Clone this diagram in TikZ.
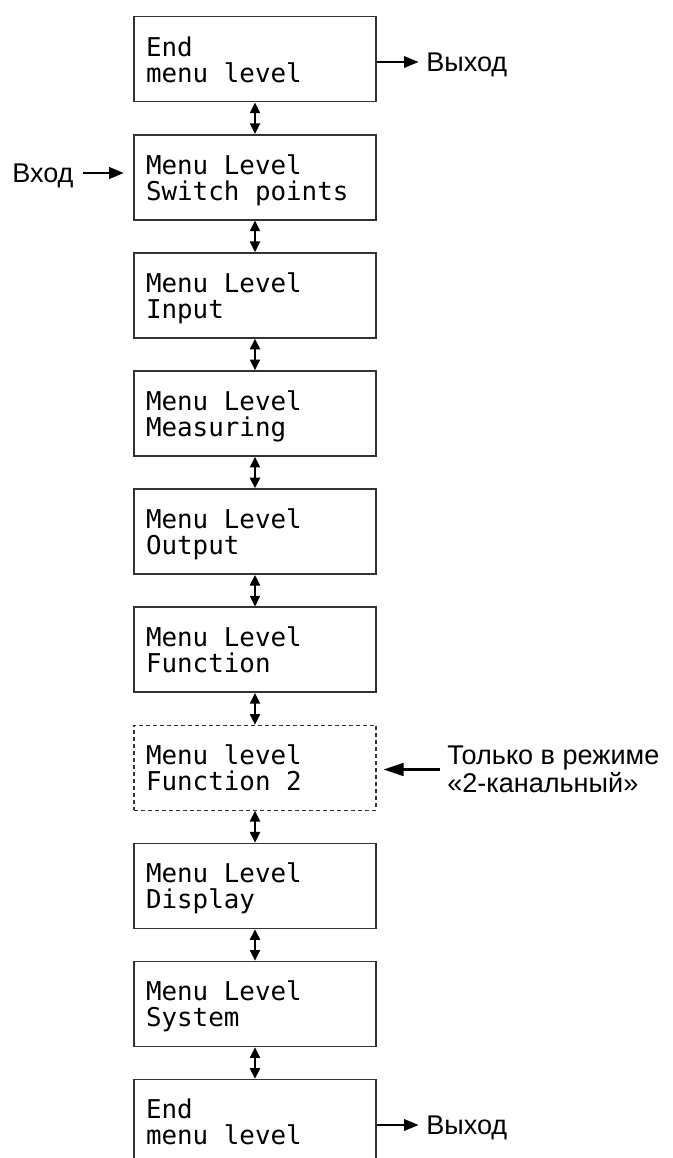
\documentclass[tikz,border=0pt]{standalone}
\usepackage{fontspec}
\setmainfont{Liberation Sans}
\newfontfamily\monofont{DejaVu Sans Mono}
\usetikzlibrary{arrows.meta}
\newcommand{\nodep}[1]{\raisebox{0pt}[\height][0pt]{#1}}
\begin{document}
\begin{tikzpicture}[x=0.75pt,y=-0.75pt,
  menubox/.style={draw=black!80, line width=1.15pt, minimum width=181.5pt,
    minimum height=63.75pt, inner xsep=9pt, inner ysep=0pt, text width=163.5pt,
    align=left, font=\monofont\fontsize{19.4}{19.5}\selectfont,
    execute at begin node={\spaceskip=0pt\xspaceskip=0pt\relax}},
  optbox/.style={menubox, line width=0.8pt, dash pattern=on 3pt off 2.25pt},
  vdbl/.style={line width=1.6pt,
    {Triangle[length=8pt,width=7.5pt]}-{Triangle[length=8pt,width=7.5pt]}},
  harr/.style={line width=1.9pt, -{Triangle[length=11pt,width=8.5pt]}},
  harrb/.style={line width=1.9pt, -{Triangle[length=15pt,width=9.5pt]}},
  side/.style={font=\fontsize{20.3}{21}\selectfont, inner sep=0pt, anchor=west,
    text height=14.5pt, text depth=0pt},
  sidetwo/.style={font=\fontsize{20.3}{21}\selectfont, inner sep=0pt, anchor=west,
    align=left, execute at begin node={\spaceskip=0pt\xspaceskip=0pt\relax}},
]
\useasboundingbox (0,0) rectangle (672,1158);
\clip (0,0) rectangle (672,1158);

\node[menubox] (b1) at (255,59.2) {End\\\nodep{menu level}};
\node[menubox] (b2) at (255,177.3) {Menu Level\\\nodep{Switch points}};
\node[menubox] (b3) at (255,295.4) {Menu Level\\\nodep{Input}};
\node[menubox] (b4) at (255,413.5) {Menu Level\\\nodep{Measuring}};
\node[menubox] (b5) at (255,531.6) {Menu Level\\\nodep{Output}};
\node[menubox] (b6) at (255,649.7) {Menu Level\\\nodep{Function}};
\node[optbox]  (b7) at (255,767.8) {Menu level\\\nodep{Function 2}};
\node[menubox] (b8) at (255,885.9) {Menu Level\\\nodep{Display}};
\node[menubox] (b9) at (255,1004.0) {Menu Level\\\nodep{System}};
\node[menubox] (b10) at (255,1122.1) {End\\\nodep{menu level}};

\foreach \a/\b in {b1/b2,b2/b3,b3/b4,b4/b5,b5/b6,b6/b7,b7/b8,b8/b9,b9/b10}
  \draw[vdbl] (\a) -- (\b);

% exits
\node[side] (out1) at (426,62) {Выход};
\draw[harr] (b1.east |- out1.west) -- ([xshift=-5.5pt]out1.west);
\node[side] (out10) at (426,1125) {Выход};
\draw[harr] (b10.east |- out10.west) -- ([xshift=-5.5pt]out10.west);

% entry
\node[side] (in2) at (12,173) {Вход};
\draw[harr, shorten >=7pt] ([xshift=7pt]in2.east) -- (b2.west |- in2.east);

% note for Function 2
\node[sidetwo] (note) at (447,769.5) {Только в режиме\\«2-канальный»};
\draw[harrb, shorten >=5.25pt] ([xshift=-5.6pt]note.west) -- (b7.east |- note.west);
\end{tikzpicture}
\end{document}
